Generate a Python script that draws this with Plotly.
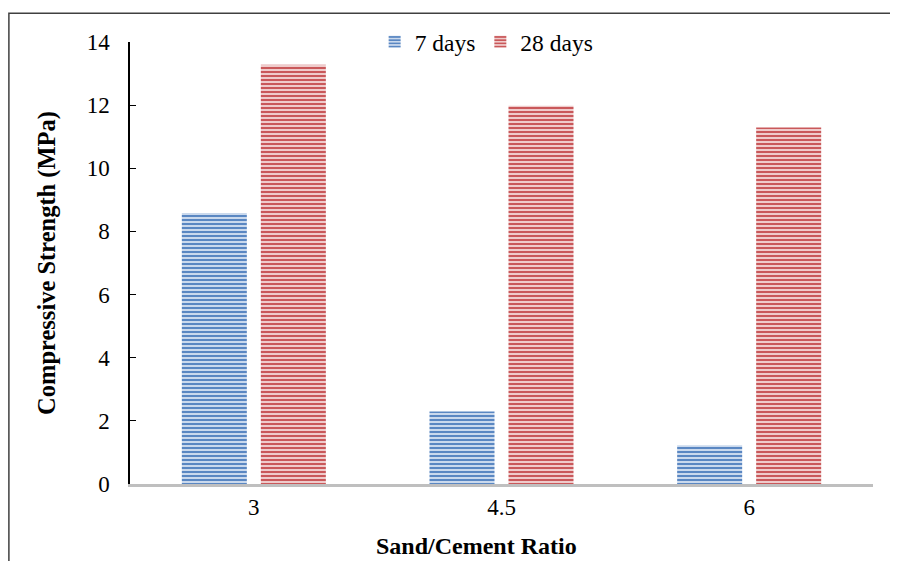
import plotly.graph_objects as go

categories = ["3", "4.5", "6"]
days7 = [8.58, 2.30, 1.23]
days28 = [13.28, 11.98, 11.29]
series_names = ["7 days", "28 days"]
y_ticks = [0, 2, 4, 6, 8, 10, 12, 14]

FONT = "Liberation Serif"

fig = go.Figure()
fig.add_trace(go.Bar(
    x=categories, y=days7, name=series_names[0],
    marker=dict(color="#c9d8ee", line=dict(width=0),
                pattern=dict(shape="-", fgcolor="#5a87c2", bgcolor="#d6e2f2",
                             size=4, solidity=0.55, fillmode="replace")),
))
fig.add_trace(go.Bar(
    x=categories, y=days28, name=series_names[1],
    marker=dict(color="#f0cfce", line=dict(width=0),
                pattern=dict(shape="-", fgcolor="#c9585a", bgcolor="#f4d8d8",
                             size=4, solidity=0.55, fillmode="replace")),
))

fig.update_layout(
    width=890, height=553,
    margin=dict(l=122, r=25, t=32, b=77),
    paper_bgcolor="white", plot_bgcolor="white",
    barmode="group", bargap=0.362, bargroupgap=0.177,
    font=dict(family=FONT, size=23, color="black"),
    showlegend=True,
    legend=dict(orientation="h", x=0.48, xanchor="center", y=1.0, yanchor="middle",
                font=dict(family=FONT, size=23.5), itemwidth=30,
                tracegroupgap=0, bgcolor="rgba(0,0,0,0)"),
    xaxis=dict(type="category", showline=True, linecolor="#bfbfbf", linewidth=3,
               ticks="", showgrid=False, tickfont=dict(family=FONT, size=23)),
    yaxis=dict(range=[0, 14], tickvals=y_ticks, showline=True, linecolor="black",
               linewidth=1.5, ticks="inside", ticklen=6, tickcolor="black",
               showgrid=False, zeroline=False, tickfont=dict(family=FONT, size=23),
               ticklabelstandoff=14,
               title=dict(text="<b>Compressive Strength (MPa)</b>", standoff=24,
                          font=dict(family=FONT, size=24.5))),
    annotations=[dict(text="<b>Sand/Cement Ratio</b>", xref="paper", yref="paper",
                      x=0.466, y=-0.14, xanchor="center", yanchor="middle",
                      showarrow=False, font=dict(family=FONT, size=24))],
    shapes=[dict(type="rect", xref="paper", yref="paper",
                 x0=-0.163, x1=1.3, y0=-0.4, y1=1.0653,
                 line=dict(color="#404040", width=1.5), layer="below")],
)

fig.write_html("out.html")
